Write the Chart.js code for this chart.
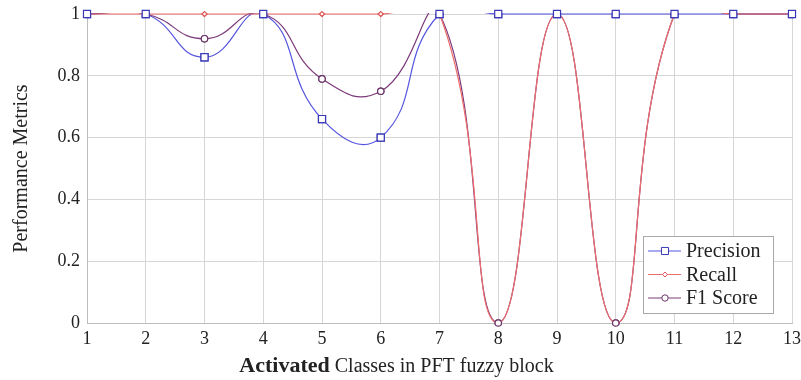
<!DOCTYPE html>
<html>
<head>
<meta charset="utf-8">
<title>Performance Metrics</title>
<script src="https://cdn.jsdelivr.net/npm/chart.js@4.4.0/dist/chart.umd.min.js"></script>
<style>
  html, body { margin: 0; padding: 0; background: #fff; }
  #wrap { width: 801px; height: 380px; }
</style>
</head>
<body>
<div id="wrap"><canvas id="metrics-chart" width="801" height="380"></canvas></div>
<script>
// Valeurs
const classLabels = ['1', '2', '3', '4', '5', '6', '7', '8', '9', '10', '11', '12', '13'];
const precision = [1, 1, 0.86, 1, 0.66, 0.60, 1, 1, 1, 1, 1, 1, 1];
const recall    = [1, 1, 1, 1, 1, 1, 1, 0, 1, 0, 1, 1, 1];
const f1Score   = [1, 1, 0.92, 1, 0.79, 0.75, 1, 0, 1, 0, 1, 1, 1];
const yTickLabels = ['0', '0.2', '0.4', '0.6', '0.8', '1'];
const seriesNames = ['Precision', 'Recall', 'F1 Score'];

const SERIF = '"Liberation Serif", "DejaVu Serif", serif';
const gridColor = '#d6d6d6';

function drawMarker(ctx, style, x, y, r, stroke) {
    ctx.beginPath();
    if (style === 'rect') {
        const s = Math.SQRT1_2 * r;
        ctx.rect(x - s, y - s, 2 * s, 2 * s);
    } else if (style === 'rectRot') {
        ctx.moveTo(x, y - r);
        ctx.lineTo(x + r, y);
        ctx.lineTo(x, y + r);
        ctx.lineTo(x - r, y);
        ctx.closePath();
    } else {
        ctx.arc(x, y, r, 0, Math.PI * 2);
    }
    ctx.fillStyle = '#fff';
    ctx.fill();
    ctx.strokeStyle = stroke;
    ctx.stroke();
}

// les courbes sont coupees en haut (comme pgfplots), mais pas les marqueurs :
// on les redessine sans clip apres les datasets (les carres par-dessus)
const markersOnTop = {
    id: 'markersOnTop',
    afterDatasetsDraw(chart) {
        const metas = chart.getSortedVisibleDatasetMetas();
        for (let i = 0; i < metas.length; i++) {
            metas[i].data.forEach(pt => pt.draw(chart.ctx));
        }
    }
};

// legende encadree dans le coin bas droit
const boxLegend = {
    id: 'boxLegend',
    afterDraw(chart) {
        const ctx = chart.ctx;
        const area = chart.chartArea;
        const w = 130, h = 77;
        const x0 = area.right - 149, y0 = area.bottom - 87;
        ctx.save();
        ctx.fillStyle = '#fff';
        ctx.fillRect(x0, y0, w, h);
        ctx.strokeStyle = '#a8a8a8';
        ctx.lineWidth = 1;
        ctx.strokeRect(x0 + 0.5, y0 + 0.5, w, h);
        chart.data.datasets.forEach((ds, i) => {
            const y = y0 + 15 + i * 23.5;
            ctx.strokeStyle = ds.borderColor;
            ctx.lineWidth = 1.2;
            ctx.beginPath();
            ctx.moveTo(x0 + 5, y);
            ctx.lineTo(x0 + 38, y);
            ctx.stroke();
            ctx.lineWidth = 1;
            drawMarker(ctx, ds.pointStyle, x0 + 22, y, ds.pointRadius, ds.pointBorderColor);
            ctx.fillStyle = '#222';
            ctx.font = '20px ' + SERIF;
            ctx.textAlign = 'left';
            ctx.textBaseline = 'middle';
            ctx.fillText(ds.label, x0 + 43, y + 1);
        });
        ctx.restore();
    }
};

// titre de l'axe x avec "Activated" en gras
const xTitle = {
    id: 'xTitle',
    afterDraw(chart) {
        const ctx = chart.ctx;
        const boldPart = 'Activated';
        const rest = ' Classes in PFT fuzzy block';
        ctx.save();
        ctx.fillStyle = '#222';
        ctx.textBaseline = 'alphabetic';
        ctx.textAlign = 'left';
        ctx.font = 'bold 22px ' + SERIF;
        const w1 = ctx.measureText(boldPart).width;
        ctx.font = '20px ' + SERIF;
        const w2 = ctx.measureText(rest).width;
        const x = chart.width / 2 - 4 - (w1 + w2) / 2;
        const y = 372;
        ctx.font = 'bold 22px ' + SERIF;
        ctx.fillText(boldPart, x, y);
        ctx.font = '20px ' + SERIF;
        ctx.fillText(rest, x + w1, y);
        ctx.restore();
    }
};

const ctx = document.getElementById('metrics-chart').getContext('2d');
new Chart(ctx, {
    type: 'line',
    data: {
        labels: classLabels,
        datasets: [{
            label: seriesNames[0],
            data: precision,
            borderColor: '#5555e0',
            pointBorderColor: '#3a3ab8',
            pointBackgroundColor: '#fff',
            pointStyle: 'rect',
            pointRadius: 5,
            borderWidth: 1.2,
            order: 2
        }, {
            label: seriesNames[1],
            data: recall,
            borderColor: '#ee6e6e',
            pointBorderColor: '#e05a5a',
            pointBackgroundColor: '#fff',
            pointStyle: 'rectRot',
            pointRadius: 2.5,
            borderWidth: 1.2,
            order: 0
        }, {
            label: seriesNames[2],
            data: f1Score,
            borderColor: '#7c3a7a',
            pointBorderColor: '#6a3568',
            pointBackgroundColor: '#fff',
            pointStyle: 'circle',
            pointRadius: 3.2,
            borderWidth: 1.2,
            order: 1
        }]
    },
    options: {
        responsive: false,
        animation: false,
        layout: { padding: 0 },
        elements: {
            line: { tension: 0.5, capBezierPoints: false },
            point: { borderWidth: 1 }
        },
        datasets: { line: { clip: { left: 2, top: 1, right: 2, bottom: 2 } } },
        scales: {
            x: {
                grid: { color: gridColor, drawTicks: false },
                border: { color: '#bdbdbd' },
                ticks: {
                    color: '#222',
                    font: { family: SERIF, size: 18 },
                    padding: 5,
                    maxRotation: 0,
                    autoSkip: false
                },
                afterFit: scale => {
                    scale.height = 57;
                    scale.paddingRight = 9;
                    scale.paddingLeft = 0;
                }
            },
            y: {
                min: 0,
                max: 1,
                grid: { color: gridColor, drawTicks: false },
                border: { color: '#bdbdbd' },
                ticks: {
                    stepSize: 0.2,
                    color: '#222',
                    font: { family: SERIF, size: 18 },
                    padding: 7,
                    callback: value => yTickLabels[Math.round(value * 5)]
                },
                title: {
                    display: true,
                    text: 'Performance Metrics',
                    color: '#222',
                    font: { family: SERIF, size: 20 },
                    padding: { top: 10, bottom: 0 }
                },
                afterFit: scale => {
                    scale.width = 87;
                    scale.paddingTop = 14;
                    scale.paddingBottom = 0;
                }
            }
        },
        plugins: {
            legend: { display: false },
            tooltip: { enabled: false }
        }
    },
    plugins: [markersOnTop, boxLegend, xTitle]
});
</script>
</body>
</html>
